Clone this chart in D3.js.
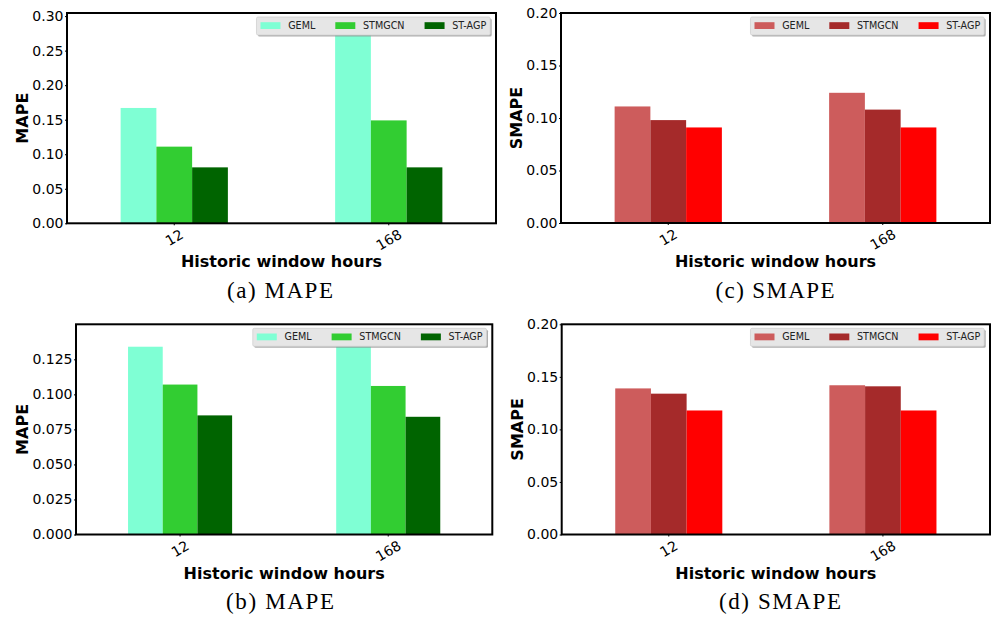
<!DOCTYPE html>
<html>
<head>
<meta charset="utf-8">
<script src="https://cdn.jsdelivr.net/npm/d3@7"></script>
<style>
body { margin: 0; background: #fff; }
</style>
</head>
<body>
<div class="chartfield"></div>
<script>
var width = 992;
var height = 617;

// categories and series
var categories = ["12", "168"];
var models = ["GEML", "STMGCN", "ST-AGP"];

// values per category: [GEML, STMGCN, ST-AGP]
var mapeA = [[0.167, 0.111, 0.081], [0.290, 0.149, 0.081]];
var mapeB = [[0.134, 0.107, 0.085], [0.143, 0.106, 0.084]];
var smapeC = [[0.111, 0.098, 0.091], [0.124, 0.108, 0.091]];
var smapeD = [[0.139, 0.134, 0.118], [0.142, 0.141, 0.118]];

// tick labels
var ticksA = [0, 0.05, 0.10, 0.15, 0.20, 0.25, 0.30];
var ticksB = [0, 0.025, 0.05, 0.075, 0.10, 0.125];
var ticksCD = [0, 0.05, 0.10, 0.15, 0.20];

var greens = ["#7fffd4", "#32cd32", "#006400"];
var reds = ["#cd5c5c", "#a52a2a", "#ff0000"];

var panels = [
	{values: mapeA, ticks: ticksA, fmt: ".2f", ymax: 0.3045, colors: greens, ylabel: "MAPE", caption: "(a) MAPE", capW: 106,
	 left: 67, right: 496, top: 13, bottom: 223.3, ylabX: 28, capX: 280, capY: 297.5},
	{values: smapeC, ticks: ticksCD, fmt: ".2f", ymax: 0.20, colors: reds, ylabel: "SMAPE", caption: "(c) SMAPE", capW: 119,
	 left: 561, right: 990, top: 13, bottom: 223, ylabX: 522, capX: 775, capY: 297.5},
	{values: mapeB, ticks: ticksB, fmt: ".3f", ymax: 0.150, colors: greens, ylabel: "MAPE", caption: "(b) MAPE", capW: 108,
	 left: 76, right: 492.3, top: 324.3, bottom: 534.5, ylabX: 27.5, capX: 280, capY: 608.5},
	{values: smapeD, ticks: ticksCD, fmt: ".2f", ymax: 0.20, colors: reds, ylabel: "SMAPE", caption: "(d) SMAPE", capW: 122,
	 left: 561.7, right: 990, top: 324.3, bottom: 534.5, ylabX: 523.3, capX: 780, capY: 608.5}
];

var svg = d3.select(".chartfield")
	.append("svg")
	.attr("width", width)
	.attr("height", height)
	.style("font-family", "DejaVu Sans, sans-serif");

panels.forEach(function(p) {
	var g = svg.append("g");

	var x0 = d3.scaleBand()
		.domain(categories)
		.range([p.left, p.right])
		.paddingInner(0.5)
		.paddingOuter(0.25);
	var x1 = d3.scaleBand()
		.domain(models)
		.range([0, x0.bandwidth()]);
	var y = d3.scaleLinear()
		.domain([0, p.ymax])
		.range([p.bottom, p.top]);

	// bars
	var groups = g.selectAll("g.cat")
		.data(categories)
		.enter().append("g")
		.attr("class", "cat")
		.attr("transform", function(d) { return "translate(" + x0(d) + ",0)"; });
	groups.selectAll("rect")
		.data(function(d, i) {
			return models.map(function(m, j) { return {model: m, value: p.values[i][j], k: j}; });
		})
		.enter().append("rect")
		.attr("x", function(d) { return x1(d.model); })
		.attr("width", x1.bandwidth())
		.attr("y", function(d) { return Math.max(y(d.value), p.top); })
		.attr("height", function(d) { return p.bottom - Math.max(y(d.value), p.top); })
		.attr("fill", function(d) { return p.colors[d.k]; });

	// y axis
	var yAxis = g.append("g")
		.attr("transform", "translate(" + p.left + ",0)")
		.call(d3.axisLeft(y).tickValues(p.ticks).tickFormat(d3.format(p.fmt)).tickSize(2).tickPadding(1.5));
	yAxis.select(".domain").remove();
	yAxis.selectAll("text")
		.attr("font-size", "14px")
		.attr("font-family", "DejaVu Sans, sans-serif")
		.attr("fill", "#000");

	// x axis, rotated labels
	var xAxis = g.append("g")
		.attr("transform", "translate(0," + p.bottom + ")")
		.call(d3.axisBottom(x0).tickSize(2).tickPadding(0));
	xAxis.select(".domain").remove();
	xAxis.selectAll("text")
		.attr("font-size", "14px")
		.attr("font-family", "DejaVu Sans, sans-serif")
		.attr("fill", "#000")
		.attr("text-anchor", "middle")
		.attr("dy", "0.36em")
		.attr("y", 0)
		.attr("transform", function() {
			var w = this.getComputedTextLength();
			var h = 14 * 0.76;
			var half = (w * 0.5 + h * 0.866) / 2;
			return "translate(0," + (5 + half) + ") rotate(-30)";
		});

	// frame
	g.append("rect")
		.attr("x", p.left)
		.attr("y", p.top)
		.attr("width", p.right - p.left)
		.attr("height", p.bottom - p.top)
		.attr("fill", "none")
		.attr("stroke", "#000")
		.attr("stroke-width", 2);

	// axis titles
	g.append("text")
		.attr("x", (p.left + p.right) / 2)
		.attr("y", p.bottom + 44)
		.attr("text-anchor", "middle")
		.attr("font-size", "16px")
		.attr("font-weight", "bold")
		.text("Historic window hours");
	g.append("text")
		.attr("transform", "translate(" + p.ylabX + "," + ((p.top + p.bottom) / 2) + ") rotate(-90)")
		.attr("text-anchor", "middle")
		.attr("font-size", "16px")
		.attr("font-weight", "bold")
		.text(p.ylabel);

	// caption
	g.append("text")
		.attr("x", p.capX)
		.attr("y", p.capY)
		.attr("text-anchor", "middle")
		.attr("font-family", "Liberation Serif, serif")
		.attr("font-size", "23px")
		.attr("textLength", p.capW)
		.attr("lengthAdjust", "spacing")
		.text(p.caption);

	// legend
	var leg = g.append("g");
	var shadow = leg.append("rect");
	var box = leg.append("rect");
	var items = leg.append("g");
	var cx = 4;
	models.forEach(function(m, j) {
		items.append("rect")
			.attr("x", cx)
			.attr("y", 5.2)
			.attr("width", 20)
			.attr("height", 6.8)
			.attr("fill", p.colors[j]);
		var t = items.append("text")
			.attr("x", cx + 27.7)
			.attr("y", 12.2)
			.attr("font-size", "9.6px")
			.attr("fill", "#222")
			.text(m);
		cx += 27.7 + t.node().getComputedTextLength();
		if (j < models.length - 1) cx += 20;
	});
	var bw = cx + 4;
	var bh = 18;
	shadow.attr("x", 1.5).attr("y", 1.5).attr("width", bw).attr("height", bh)
		.attr("rx", 1.5).attr("fill", "#8c8c8c").attr("opacity", 0.7);
	box.attr("x", 0).attr("y", 0).attr("width", bw).attr("height", bh)
		.attr("rx", 1.5).attr("fill", "#e6e6e6").attr("stroke", "#d0d0d0").attr("stroke-width", 0.8);
	leg.attr("transform", "translate(" + (p.right - 5.8 - bw) + "," + (p.top + 4) + ")");
});
</script>
</body>
</html>
